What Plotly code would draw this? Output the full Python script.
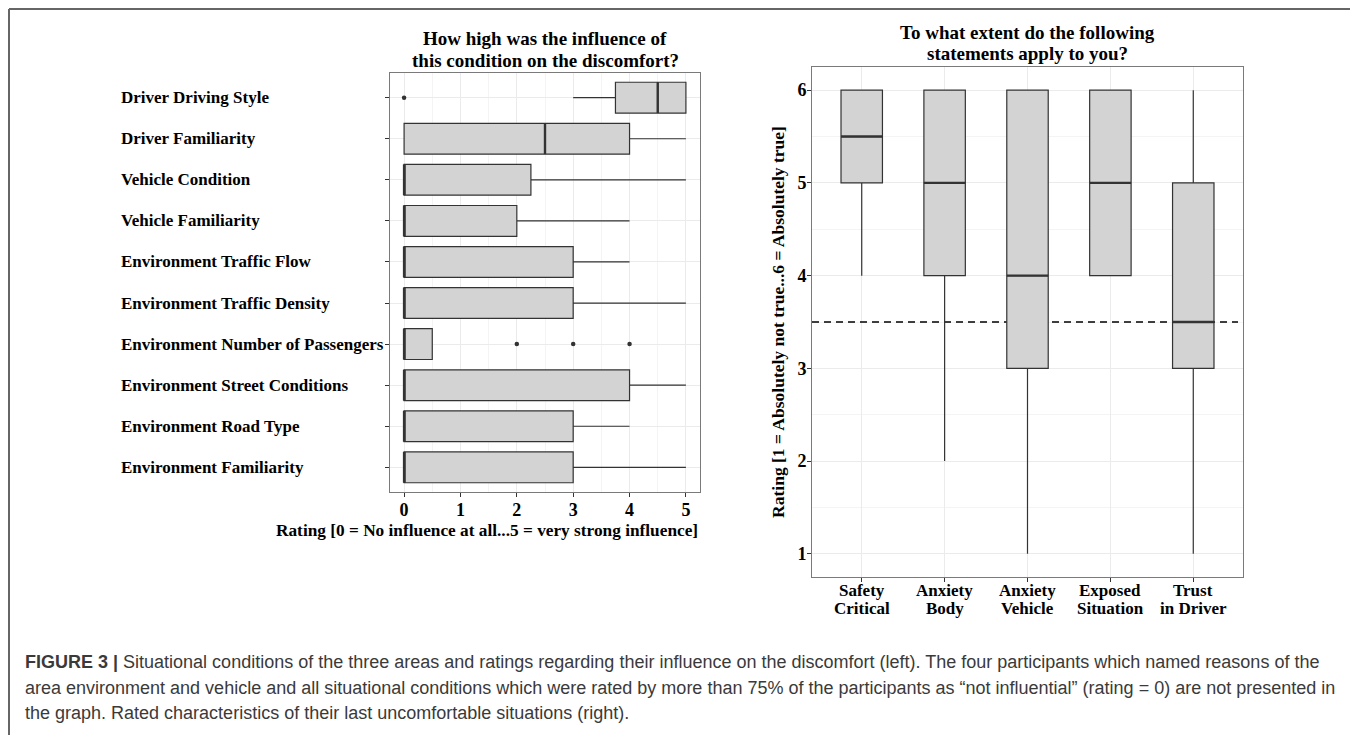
import plotly.graph_objects as go

# Screenshot size and the 8px body margin of the written page
SW, SH = 1358, 735
OFF = 8
W, H = SW - OFF, SH - OFF

# ---------------- Left panel data ----------------
left_categories = [
    "Driver Driving Style", "Driver Familiarity", "Vehicle Condition",
    "Vehicle Familiarity", "Environment Traffic Flow", "Environment Traffic Density",
    "Environment Number of Passengers", "Environment Street Conditions",
    "Environment Road Type", "Environment Familiarity",
]
left_q1 = [3.75, 0, 0, 0, 0, 0, 0, 0, 0, 0]
left_median = [4.5, 2.5, 0, 0, 0, 0, 0, 0, 0, 0]
left_q3 = [5, 4, 2.25, 2, 3, 3, 0.5, 4, 3, 3]
left_lower = [3, 0, 0, 0, 0, 0, 0, 0, 0, 0]
left_upper = [5, 5, 5, 4, 4, 5, 0.5, 5, 4, 5]
left_outlier_cat = ["Driver Driving Style", "Environment Number of Passengers",
                    "Environment Number of Passengers", "Environment Number of Passengers"]
left_outlier_val = [0, 2, 3, 4]
left_xticks = [0, 1, 2, 3, 4, 5]

# ---------------- Right panel data ----------------
right_categories = ["Safety<br>Critical", "Anxiety<br>Body", "Anxiety<br>Vehicle",
                    "Exposed<br>Situation", "Trust<br>in Driver"]
right_q1 = [5, 4, 3, 4, 3]
right_median = [5.5, 5, 4, 5, 3.5]
right_q3 = [6, 6, 6, 6, 5]
right_lower = [4, 2, 1, 4, 1]
right_upper = [6, 6, 6, 6, 6]
right_yticks = [1, 2, 3, 4, 5, 6]
reference_line = 3.5

left_title = ["How high was the influence of", "this condition on the discomfort?"]
left_xtitle = "Rating [0 = No influence at all...5 = very strong influence]"
right_title = ["To what extent do the following", "statements apply to you?"]
right_ytitle = "Rating [1 = Absolutely not true...6 = Absolutely true]"
caption_lines = [
    "<b>FIGURE 3 |</b> Situational conditions of the three areas and ratings regarding their influence on the discomfort (left). The four participants which named reasons of the",
    "area environment and vehicle and all situational conditions which were rated by more than 75% of the participants as \u201cnot influential\u201d (rating = 0) are not presented in",
    "the graph. Rated characteristics of their last uncomfortable situations (right).",
]

SERIF = "Liberation Serif"
SANS = "Liberation Sans"
FILL = "#D3D3D3"
LINE = "#333333"
GRID = "#EBEBEB"
MINOR = "#F4F4F4"
FRAME = "#7A7A7A"


def X(p):
    return (p - OFF) / W


def Y(p):
    return 1 - (p - OFF) / H


fig = go.Figure()

# Left boxes
lpos = list(range(len(left_categories)))
fig.add_trace(go.Box(
    y=lpos, q1=left_q1, median=left_median, q3=left_q3,
    lowerfence=left_lower, upperfence=left_upper,
    orientation="h", width=0.75, fillcolor=FILL,
    line=dict(color=LINE, width=1.2), whiskerwidth=0,
    boxpoints=False, xaxis="x", yaxis="y", showlegend=False, hoverinfo="skip",
))
mx, my = [], []
for i, m in enumerate(left_median):
    mx += [m, m, None]
    my += [i - 0.375, i + 0.375, None]
fig.add_trace(go.Scatter(x=mx, y=my, mode="lines", line=dict(color=LINE, width=2.4),
                         xaxis="x", yaxis="y", showlegend=False, hoverinfo="skip"))
fig.add_trace(go.Scatter(
    x=left_outlier_val, y=[left_categories.index(c) for c in left_outlier_cat],
    mode="markers", marker=dict(color=LINE, size=4.5),
    xaxis="x", yaxis="y", showlegend=False, hoverinfo="skip"))

# Right boxes
rpos = list(range(len(right_categories)))
fig.add_trace(go.Box(
    x=rpos, q1=right_q1, median=right_median, q3=right_q3,
    lowerfence=right_lower, upperfence=right_upper,
    width=0.5, fillcolor=FILL, line=dict(color=LINE, width=1.2), whiskerwidth=0,
    boxpoints=False, xaxis="x2", yaxis="y2", showlegend=False, hoverinfo="skip",
))
mx, my = [], []
for i, m in enumerate(right_median):
    mx += [i - 0.25, i + 0.25, None]
    my += [m, m, None]
fig.add_trace(go.Scatter(x=mx, y=my, mode="lines", line=dict(color=LINE, width=2.4),
                         xaxis="x2", yaxis="y2", showlegend=False, hoverinfo="skip"))

tickfont = dict(family=SERIF, size=18, color="black")
r_xrange = [-0.6, len(right_categories) - 0.4]

fig.update_layout(
    width=W, height=H, margin=dict(l=0, r=0, t=0, b=0),
    paper_bgcolor="white", plot_bgcolor="white",
    xaxis=dict(
        domain=[X(390), X(700)], anchor="y", range=[-0.25, 5.25],
        tickvals=left_xticks, ticktext=[f"<b>{v}</b>" for v in left_xticks],
        tickfont=tickfont, ticks="outside", ticklen=4, tickcolor=LINE,
        ticklabelstandoff=-3,
        showgrid=True, gridcolor=GRID, gridwidth=1,
        minor=dict(dtick=0.5, showgrid=True, gridcolor=MINOR, gridwidth=0.7, ticks=""),
        showline=True, mirror=True, linecolor=FRAME, linewidth=1, zeroline=False,
    ),
    yaxis=dict(
        domain=[Y(492), Y(73)], anchor="x", range=[len(left_categories) - 0.4, -0.6],
        tickvals=lpos, showticklabels=False, ticks="outside", ticklen=4, tickcolor=LINE,
        showgrid=True, gridcolor=GRID, gridwidth=1,
        showline=True, mirror=True, linecolor=FRAME, linewidth=1, zeroline=False,
    ),
    xaxis2=dict(
        domain=[X(812), X(1243)], anchor="y2", range=r_xrange,
        tickvals=rpos, showticklabels=False,
        ticks="outside", ticklen=4, tickcolor=LINE,
        showgrid=True, gridcolor=GRID, gridwidth=1,
        showline=True, mirror=True, linecolor=FRAME, linewidth=1, zeroline=False,
    ),
    yaxis2=dict(
        domain=[Y(577), Y(67)], anchor="x2", range=[0.75, 6.25],
        tickvals=right_yticks, ticktext=[f"<b>{v}</b>" for v in right_yticks],
        tickfont=tickfont, ticks="outside", ticklen=4, tickcolor=LINE,
        ticklabelstandoff=-3,
        showgrid=True, gridcolor=GRID, gridwidth=1,
        minor=dict(dtick=0.5, showgrid=True, gridcolor=MINOR, gridwidth=0.7, ticks=""),
        showline=True, mirror=True, linecolor=FRAME, linewidth=1, zeroline=False,
        title=dict(text=f"<b>{right_ytitle}</b>", font=dict(family=SERIF, size=17.5, color="black"),
                   standoff=8),
    ),
)

# Reference line, between grid and boxes
fig.add_shape(type="line", xref="x2", yref="y2", x0=r_xrange[0], x1=r_xrange[1] - 0.06,
              y0=reference_line, y1=reference_line, layer="between",
              line=dict(color="black", width=1.6, dash="7px,5px"))

annotations = []
for i, c in enumerate(left_categories):
    annotations.append(dict(text=f"<b>{c}</b>", x=X(119), xref="paper", y=i, yref="y",
                            xanchor="left", yanchor="middle", showarrow=False,
                            font=dict(family=SERIF, size=17, color="black")))
for line, yy in zip(left_title, [39, 60]):
    annotations.append(dict(text=f"<b>{line}</b>", x=X(545), y=Y(yy), xref="paper",
                            yref="paper", xanchor="center", yanchor="middle", showarrow=False,
                            borderpad=0, font=dict(family=SERIF, size=19, color="black")))
for line, yy in zip(right_title, [32.5, 53.5]):
    annotations.append(dict(text=f"<b>{line}</b>", x=X(1027), y=Y(yy), xref="paper",
                            yref="paper", xanchor="center", yanchor="middle", showarrow=False,
                            borderpad=0, font=dict(family=SERIF, size=19, color="black")))
annotations.append(dict(text=f"<b>{left_xtitle}</b>", x=X(700), y=Y(530), xref="paper",
                        yref="paper", xanchor="right", yanchor="middle", showarrow=False,
                        font=dict(family=SERIF, size=17.3, color="black")))
for i, c in enumerate(right_categories):
    for part, yy in zip(c.split("<br>"), [590, 608]):
        annotations.append(dict(text=f"<b>{part}</b>", x=i, xref="x2", y=Y(yy), yref="paper",
                                xanchor="center", yanchor="middle", showarrow=False,
                                borderpad=0, font=dict(family=SERIF, size=17, color="black")))
for line, yy in zip(caption_lines, [662, 688, 713]):
    annotations.append(dict(text=line, x=X(23), y=Y(yy), xref="paper", yref="paper",
                            xanchor="left", yanchor="middle", showarrow=False,
                            font=dict(family=SANS, size=18, color="#3a3a3a")))
fig.update_layout(annotations=annotations)

# Outer frame of the figure
border = dict(color="#666666", width=2)
fig.add_shape(type="line", xref="paper", yref="paper", x0=X(9), x1=X(1355),
              y0=Y(9), y1=Y(9), line=border)
fig.add_shape(type="line", xref="paper", yref="paper", x0=X(9), x1=X(9),
              y0=0, y1=Y(9), line=border)
fig.add_shape(type="line", xref="paper", yref="paper", x0=X(1355), x1=X(1355),
              y0=0, y1=Y(9), line=border)

fig.write_html("out.html")
